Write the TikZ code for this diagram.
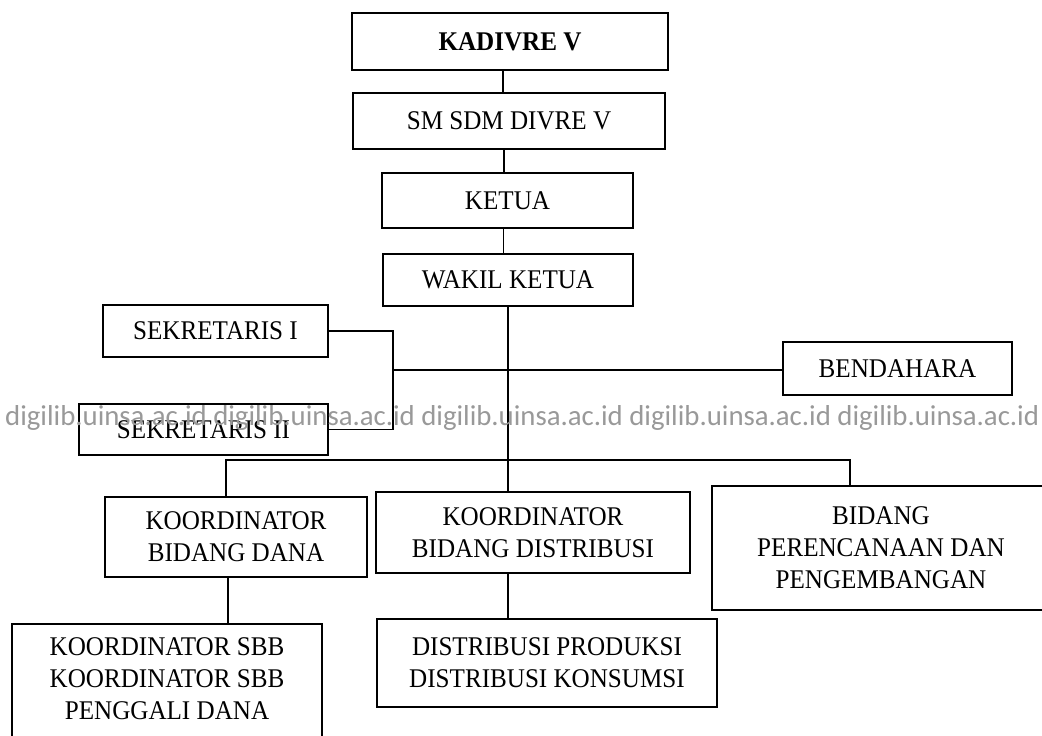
\documentclass[tikz,border=0pt]{standalone}
\usepackage{fontspec}
\setmainfont{Liberation Serif}[FakeStretch=0.93]
\newfontfamily\wmfont{Carlito}
\begin{document}
\begin{tikzpicture}[x=1pt,y=-1pt,
        box/.style={draw,line width=1.8pt,align=center,inner sep=0pt,
            font=\fontsize{27}{32}\selectfont},
        link/.style={line width=1.8pt},
        watermark/.style={text=black!40,inner sep=0pt,
            font=\wmfont\fontsize{28.8}{30}\selectfont}]
            \useasboundingbox (0,0) rectangle (1042,736);
            \clip (0,0) rectangle (1042,736);
            % top of the chart
            \node[box,minimum width=316pt,minimum height=57pt] (kadivre) at (510,41.5) {\textbf{KADIVRE V}};
            \node[box,minimum width=312pt,minimum height=56pt] (smsdm) at (509,121) {SM SDM DIVRE V};
            \node[box,minimum width=251pt,minimum height=55pt] (ketua) at (507.5,200.5) {KETUA};
            \node[box,minimum width=250pt,minimum height=52pt] (wakil) at (508,280) {WAKIL KETUA};
            % staff
            \node[box,minimum width=225pt,minimum height=52pt] (sek1) at (215.5,331) {SEKRETARIS I};
            \node[box,minimum width=249pt,minimum height=51pt] (sek2) at (203.5,429.5) {SEKRETARIS II};
            \node[box,minimum width=229pt,minimum height=53pt] (bendahara) at (897.5,368.5) {BENDAHARA};
            % bidang
            \node[box,minimum width=262pt,minimum height=80pt] (kdana) at (236,537) {KOORDINATOR\\BIDANG DANA};
            \node[box,minimum width=314pt,minimum height=81pt] (kdist) at (533,532.5) {KOORDINATOR\\BIDANG DISTRIBUSI};
            \node[box,minimum width=338pt,minimum height=124pt] (bidang) at (881,548) {BIDANG\\PERENCANAAN DAN\\PENGEMBANGAN};
            \node[box,minimum width=310pt,anchor=north,inner ysep=14pt] (sbb) at (167,623) {KOORDINATOR SBB\\KOORDINATOR SBB\\PENGGALI DANA\\[8pt]\mbox{}};
            \node[box,minimum width=340pt,minimum height=88pt] (dist) at (547,663) {DISTRIBUSI PRODUKSI\\DISTRIBUSI KONSUMSI};
            % lines
            \draw[link] ([xshift=-7pt]kadivre.south) -- ([xshift=-7pt]kadivre.south |- smsdm.north);
            \draw[link] ([xshift=-5pt]smsdm.south) -- ([xshift=-5pt]smsdm.south |- ketua.north);
            \draw[link] ([xshift=-4pt]ketua.south) -- ([xshift=-4pt]ketua.south |- wakil.north);
            \draw[link] (wakil.south) -- (wakil.south |- kdist.north);
            \coordinate (sekjoin) at (393,370);
            \draw[link] (sek1.east) -| (sekjoin) |- (sek2.east);
            \draw[link] (sekjoin) -- (sekjoin -| bendahara.west);
            \coordinate (busL) at (226,460);
            \coordinate (busR) at (850,460);
            \draw[link] (busL |- kdana.north) -- (busL) -- (busR) -- (busR |- bidang.north);
            \draw[link] ([xshift=-8pt]kdana.south) -- ([xshift=-8pt]kdana.south |- sbb.north);
            \draw[link] (wakil.south |- kdist.south) -- (wakil.south |- dist.north);
            \node[watermark,anchor=base west] (wm) at (5,425) {digilib.uinsa.ac.id digilib.uinsa.ac.id digilib.uinsa.ac.id digilib.uinsa.ac.id digilib.uinsa.ac.id};
        \end{tikzpicture}
\end{document}
